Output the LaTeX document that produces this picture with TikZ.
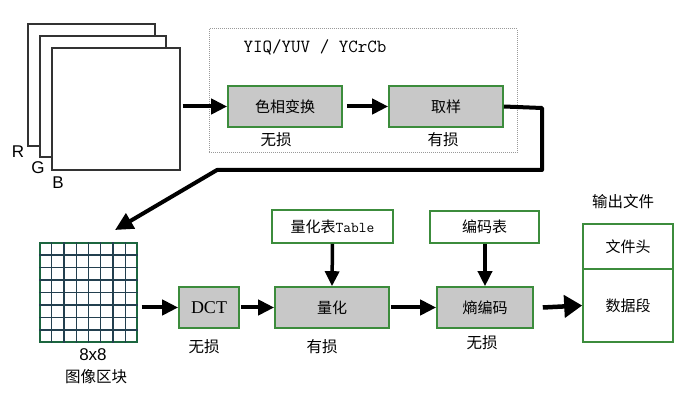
\documentclass[tikz,border=0pt]{standalone}
\usepackage{fontspec}
\setmainfont{Liberation Sans}
\newfontfamily\cjk{Noto Sans CJK SC}
\newfontfamily\seriff{Liberation Serif}
\usetikzlibrary{arrows.meta,calc}
\definecolor{boxgreen}{HTML}{3C8C3C}
\definecolor{boxgray}{HTML}{C8C8C8}
\definecolor{gridcol}{HTML}{23404F}
\tikzset{
  procbox/.style={draw=boxgreen, line width=1.6pt, fill=boxgray, inner sep=0pt, font=\cjk\fontsize{15}{15}\selectfont},
  tablebox/.style={draw=boxgreen, line width=1.6pt, fill=white, inner sep=0pt, font=\cjk\fontsize{15}{15}\selectfont},
  sheet/.style={draw=black!80, line width=1.3pt, fill=white},
  lbl/.style={font=\cjk\fontsize{15.5}{15.5}\selectfont, inner sep=0pt},
  rgb/.style={font=\fontsize{17}{17}\selectfont, inner sep=0pt},
  fatarrow/.style={line width=4pt, -{Triangle[length=16pt,width=15pt]}},
  bigarrow/.style={line width=4.5pt, -{Triangle[length=18pt,width=22pt]}},
  thickline/.style={line width=4pt, line join=round},
}
\begin{document}
\begin{tikzpicture}[x=1pt,y=-1pt]
\useasboundingbox[fill=white] (0,0) rectangle (681,398);
% RGB sheets
\node[sheet, minimum width=127pt, minimum height=122pt, inner sep=0pt] (sr) at (91.5,85) {};
\node[sheet, minimum width=126pt, minimum height=121pt, inner sep=0pt] (sg) at (103,96.5) {};
\node[sheet, minimum width=128pt, minimum height=122pt, inner sep=0pt] (sb) at (116,109) {};
\node[rgb] (lr) at (18,152) {R};
\node[rgb] (lg) at (38,168) {G};
\node[rgb] (lb) at (58,183) {B};
% dashed colour-space box
\node[draw=black!40, densely dotted, line width=1pt, minimum width=308pt, minimum height=124pt, inner sep=0pt] (cbox) at (363,91) {};
\node[font=\ttfamily\fontsize{18.5}{18.5}\selectfont, inner sep=0pt] (cst) at (315,47) {YIQ/YUV / YCrCb};
% colour transform and sampling
\node[procbox, minimum width=114pt, minimum height=41pt] (ct) at (285,106.5) {色相变换};
\node[lbl] (ctl) at (276,140) {无损};
\node[procbox, minimum width=114pt, minimum height=41pt] (qy) at (446,106.5) {取样};
\node[lbl] (qyl) at (443,140) {有损};
\draw[fatarrow] (sb.east |- ct.west) ++(2,0) coordinate (a1s) -- (ct.west);
\draw[fatarrow] (ct.east) ++(4,0) coordinate (a2s) -- (qy.west);
% 8x8 grid
\node[draw=gridcol!80!green, line width=1.3pt, minimum width=97pt, minimum height=99pt, inner sep=0pt] (grid) at (88.5,292.5) {};
\foreach \i in {1,...,7} {
  \draw[gridcol, line width=1.3pt] ($(grid.north west)!\i/8!(grid.north east)$) -- ($(grid.south west)!\i/8!(grid.south east)$);
  \draw[gridcol, line width=1.3pt] ($(grid.north west)!\i/8!(grid.south west)$) -- ($(grid.north east)!\i/8!(grid.south east)$);
}
\node[rgb] (g88) at (93,355) {8x8};
\node[lbl] (gtxt) at (96,377) {图像区块};
% long connector
\coordinate (gtip) at (115,230);
\draw[thickline, -{Triangle[length=18pt,width=17pt]}] (qy.east) -- (542,108) -- (542,170) -- (217,170) -- (gtip);
% lower row
\node[procbox, minimum width=60pt, minimum height=41pt, font=\seriff\fontsize{18}{18}\selectfont] (dct) at (209,307.5) {DCT};
\node[lbl] (dctl) at (204,347) {无损};
\node[procbox, minimum width=114pt, minimum height=41pt] (qt) at (332,307.5) {量化};
\node[lbl] (qtl) at (322,347) {有损};
\node[procbox, minimum width=96pt, minimum height=41pt] (ent) at (485,307.5) {熵编码};
\node[lbl] (entl) at (482,343) {无损};
\node[tablebox, minimum width=121pt, minimum height=33pt] (qtab) at (332.5,226.5) {量化表{\ttfamily\fontsize{15}{15}\selectfont Table}};
\node[tablebox, minimum width=109pt, minimum height=32pt] (etab) at (484.5,227) {编码表};
\draw[fatarrow] (grid.east |- dct.west) ++(4,0) coordinate (a3s) -- (dct.west);
\draw[fatarrow] (dct.east) ++(1,0) coordinate (a4s) -- (qt.west);
\draw[fatarrow] (qt.east) ++(1,0) coordinate (a5s) -- (ent.west);
\draw[fatarrow, line width=3.5pt, -{Triangle[length=15pt,width=14pt]}] (qtab.south) -- (qt.north);
\draw[fatarrow, line width=3.5pt, -{Triangle[length=15pt,width=14pt]}] (etab.south -| ent.north) -- (ent.north);
% output file
\node[lbl] (outt) at (623,202) {输出文件};
\node[tablebox, minimum width=90pt, minimum height=45pt] (hdr) at (628,246.5) {文件头};
\node[tablebox, minimum width=90pt, minimum height=73pt] (dat) at (628,305.5) {数据段};
\draw[bigarrow] (ent.east) ++(9,0) coordinate (a6s) -- (dat.west);
\end{tikzpicture}
\end{document}
